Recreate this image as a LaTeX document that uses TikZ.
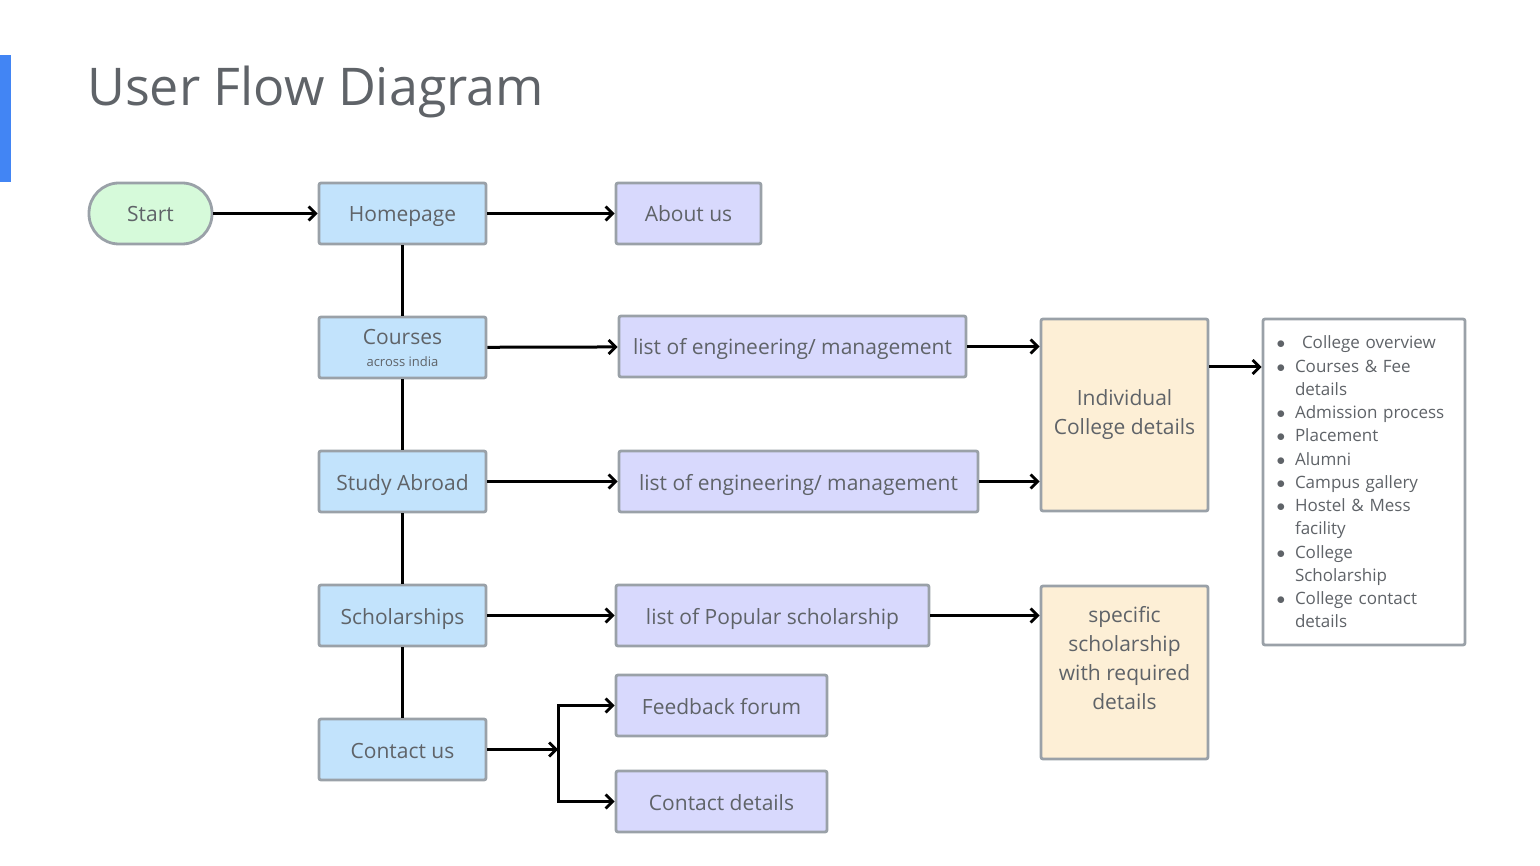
\documentclass[tikz,border=0pt]{standalone}
\usepackage{fontspec}
\setmainfont{Open Sans}
\usetikzlibrary{positioning,arrows.meta}
\definecolor{barblue}{HTML}{4285F4}
\definecolor{textgray}{HTML}{5F6368}
\definecolor{edgegray}{HTML}{9AA1A8}
\definecolor{startgreen}{HTML}{D6FADA}
\definecolor{pageblue}{HTML}{C2E3FC}
\definecolor{lavender}{HTML}{D8D9FD}
\definecolor{peach}{HTML}{FDEFD6}
\newcommand{\blt}{\makebox[14pt]{$\bullet$}\hspace{7pt}}
\newcommand{\cnt}{\hspace*{21pt}}

\begin{document}
\begin{tikzpicture}[x=1pt, y=-1pt,
  box/.style={rectangle, draw=edgegray, line width=2.8pt, rounded corners=2pt, text=textgray, font=\fontsize{21}{29}\selectfont, minimum height=61pt, inner sep=0pt},
  oneline/.style={text height=21pt, text depth=4pt},
  mainbox/.style={box, oneline, fill=pageblue, minimum width=167pt},
  listbox/.style={box, oneline, fill=lavender},
  detailbox/.style={box, fill=peach, minimum width=167pt},
  arrow/.style={-{Straight Barb[length=7pt, width=14pt, line width=2.8pt]}, line width=3pt},
  link/.style={line width=3pt}
]
\useasboundingbox (0,0) rectangle (1540,866);

% Title
\fill[barblue] (0,55) rectangle (11,182);
\node[anchor=base west, text=textgray, font=\fontsize{52}{56}\selectfont, inner sep=0pt] (title) at (87,106) {User Flow Diagram};

% Main column
\node[box, oneline, fill=startgreen, minimum width=123pt, rounded corners=30pt] (start) at (150.5,213.5) {Start};
\node[mainbox] (home) at (402.5,213.5) {Homepage};
\node[box, fill=pageblue, minimum width=167pt, align=center] (courses) at (402.5,347.5) {Courses\\[-7pt]{\fontsize{13}{14}\selectfont across india}};
\node[mainbox] (abroad) at (402.5,481.5) {Study Abroad};
\node[mainbox] (schol) at (402.5,615.5) {Scholarships};
\node[mainbox] (contact) at (402.5,749.5) {Contact us};

% Lists
\node[listbox, minimum width=145pt] (about) at (688.5,213.5) {About us};
\node[listbox, minimum width=347pt] (listone) at (792.5,346.5) {list of engineering/ management};
\node[listbox, minimum width=359pt] (listtwo) at (798.5,481.5) {list of engineering/ management};
\node[listbox, minimum width=313pt] (popular) at (772.5,615.5) {list of Popular scholarship};
\node[listbox, minimum width=211pt] (feedback) at (721.5,705.5) {Feedback forum};
\node[listbox, minimum width=211pt] (cdetails) at (721.5,801.5) {Contact details};

% Details
\node[detailbox, minimum height=192pt, align=center] (college) at (1124.5,415) {Individual\\College details};
\node[detailbox, minimum height=173pt] (specific) at (1124.5,672.5) {};
\node[text=textgray, font=\fontsize{21}{29}\selectfont, align=center] (specifictext) at ([yshift=14pt]specific.center) {specific\\scholarship\\with required\\details};
\node[box, fill=white, minimum width=202pt, minimum height=326pt, text width=180pt, align=left, font=\fontsize{17}{23.25}\selectfont] (bullets) at (1364,482) {%
\blt\hspace{7pt}College overview\\
\blt Courses \& Fee\\
\cnt details\\
\blt Admission process\\
\blt Placement\\
\blt Alumni\\
\blt Campus gallery\\
\blt Hostel \& Mess\\
\cnt facility\\
\blt College\\
\cnt Scholarship\\
\blt College contact\\
\cnt details};

% Connectors
\draw[arrow] (start) -- (home);
\draw[arrow] (home) -- (about);
\draw[link] (home) -- (courses);
\draw[link] (courses) -- (abroad);
\draw[link] (abroad) -- (schol);
\draw[link] (schol) -- (contact);
\draw[arrow] (courses) -- (listone);
\draw[arrow] (abroad) -- (listtwo);
\draw[arrow] (schol) -- (popular);
\draw[arrow] (listone) -- (listone -| college.west);
\draw[arrow] (listtwo) -- (listtwo -| college.west);
\draw[arrow] ([yshift=48pt]college.east) -- ([yshift=48pt]college.east -| bullets.west);
\draw[arrow] (popular) -- (popular -| specific.west);
\coordinate (fork) at (558,749.5);
\draw[arrow] (contact) -- (fork);
\draw[arrow] (fork) |- (feedback);
\draw[arrow] (fork) |- (cdetails);

\end{tikzpicture}
\end{document}
